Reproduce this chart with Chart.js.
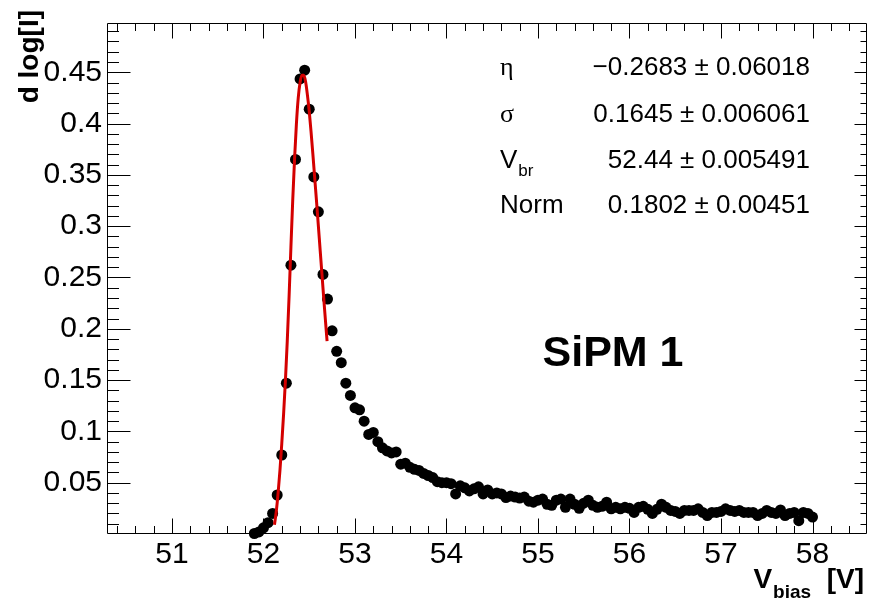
<!DOCTYPE html>
<html><head><meta charset="utf-8">
<script src="https://cdn.jsdelivr.net/npm/chart.js@4/dist/chart.umd.min.js"></script>
<style>html,body{margin:0;padding:0;background:#fff}#wrap{width:872px;height:601px}canvas{display:block}</style>
</head><body><div id="wrap"><canvas id="c" width="872" height="601"></canvas></div>
<script>
// ---- data ----
const biasV = [51.90,51.95,52.00,52.05,52.10,52.15,52.20,52.25,52.30,52.35,52.40,52.45,52.50,52.55,52.60,52.65,52.70,52.75,52.80,52.85,52.90,52.95,
53.00,53.05,53.10,53.15,53.20,53.25,53.30,53.35,53.40,53.45,53.50,53.55,53.60,53.65,53.70,53.75,53.80,53.85,53.90,53.95,
54.00,54.05,54.10,54.15,54.20,54.25,54.30,54.35,54.40,54.45,54.50,54.55,54.60,54.65,54.70,54.75,54.80,54.85,54.90,54.95,
55.00,55.05,55.10,55.15,55.20,55.25,55.30,55.35,55.40,55.45,55.50,55.55,55.60,55.65,55.70,55.75,55.80,55.85,55.90,55.95,
56.00,56.05,56.10,56.15,56.20,56.25,56.30,56.35,56.40,56.45,56.50,56.55,56.60,56.65,56.70,56.75,56.80,56.85,56.90,56.95,
57.00,57.05,57.10,57.15,57.20,57.25,57.30,57.35,57.40,57.45,57.50,57.55,57.60,57.65,57.70,57.75,57.80,57.85,57.90,57.95,58.00];
const dLogI = [0.0005,0.002,0.006,0.011,0.020,0.038,0.077,0.147,0.262,0.365,0.4435,0.452,0.414,0.348,0.314,0.253,0.229,0.198,0.178,0.167,0.147,0.135,
0.123,0.121,0.110,0.097,0.099,0.090,0.084,0.081,0.079,0.080,0.068,0.069,0.065,0.063,0.062,0.059,0.057,0.055,0.051,0.050,
0.050,0.049,0.039,0.047,0.045,0.042,0.044,0.046,0.039,0.043,0.039,0.040,0.039,0.0355,0.037,0.036,0.035,0.036,0.032,0.031,
0.033,0.034,0.029,0.028,0.033,0.034,0.026,0.034,0.029,0.025,0.030,0.033,0.028,0.026,0.027,0.031,0.0245,0.026,0.0245,0.026,
0.025,0.021,0.026,0.027,0.024,0.020,0.024,0.029,0.026,0.023,0.022,0.020,0.023,0.023,0.023,0.0245,0.021,0.018,0.021,0.021,
0.022,0.0245,0.023,0.022,0.023,0.021,0.021,0.021,0.018,0.020,0.023,0.021,0.020,0.0235,0.018,0.020,0.021,0.013,0.021,0.020,0.0165];
const fitV = [52.12,52.14,52.16,52.18,52.20,52.22,52.24,52.26,52.28,52.30,52.32,52.34,52.36,52.38,52.40,52.42,52.44,52.46,52.48,52.50,52.52,52.54,52.56,52.58,52.60,52.62,52.64,52.66,52.68,52.695];
const fitY = [0.009,0.022,0.040,0.062,0.088,0.117,0.150,0.188,0.232,0.280,0.326,0.366,0.400,0.425,0.440,0.447,0.447,0.441,0.428,0.412,0.392,0.370,0.347,0.324,0.300,0.276,0.252,0.228,0.205,0.188];
const xTickLabels = ['51','52','53','54','55','56','57','58'];
const yTickLabels = ['0.05','0.1','0.15','0.2','0.25','0.3','0.35','0.4','0.45'];
const parNames = ['η','σ','V','Norm'];
const parValues = ['\u22120.2683 \u00b1 0.06018','0.1645 \u00b1 0.006061','52.44 \u00b1 0.005491','0.1802 \u00b1 0.00451'];
const label = 'SiPM 1';

const SANS = '"Liberation Sans", Arial, Helvetica, sans-serif';
const SERIF = '"Liberation Serif", "DejaVu Serif", serif';

const rootFrame = {
  id: 'rootFrame',
  beforeDatasetsDraw(chart) {
    const {ctx, chartArea: a, scales: {x, y}} = chart;
    ctx.save();
    ctx.strokeStyle = '#000';
    ctx.lineWidth = 1;
    ctx.beginPath();
    const L = Math.round(a.left) + 0.5, R = Math.round(a.right) - 0.5, T = Math.round(a.top) + 0.5, B = Math.round(a.bottom) - 0.5;
    ctx.rect(L, T, R - L, B - T);
    // x ticks (every 0.2, major every 1)
    for (let k = Math.ceil(x.min * 5); k <= Math.floor(x.max * 5); k++) {
      const v = k / 5, px = Math.round(x.getPixelForValue(v)) + 0.5;
      const len = (k % 5 === 0) ? 15 : 7.5;
      ctx.moveTo(px, B); ctx.lineTo(px, B - len);
      ctx.moveTo(px, T); ctx.lineTo(px, T + len);
    }
    // y ticks (every 0.01, major every 0.05)
    for (let k = 1; k * 0.01 <= y.max; k++) {
      const v = k / 100, py = Math.round(y.getPixelForValue(v)) + 0.5;
      const major = (k % 5 === 0);
      ctx.moveTo(L, py); ctx.lineTo(L + (major ? 23 : 11.5), py);
      ctx.moveTo(R, py); ctx.lineTo(R - (major ? 12 : 6), py);
    }
    ctx.stroke();
    ctx.restore();
  },
  afterDraw(chart) {
    const {ctx} = chart;
    ctx.save();
    ctx.fillStyle = '#000';
    // y title
    ctx.save();
    ctx.font = 'bold 28px ' + SANS;
    ctx.translate(38, 10);
    ctx.rotate(-Math.PI / 2);
    ctx.textAlign = 'right';
    ctx.textBaseline = 'alphabetic';
    ctx.fillText('d log[I]', 0, 0);
    ctx.restore();
    // x title  V_bias [V], right aligned at 862
    ctx.textBaseline = 'alphabetic';
    ctx.textAlign = 'left';
    const big = 'bold 28px ' + SANS, small = 'bold 19px ' + SANS;
    ctx.font = big; const wV = ctx.measureText('V').width; const wU = ctx.measureText('  [V]').width;
    ctx.font = small; const wS = ctx.measureText('bias').width;
    let x0 = 863 - wV - wS - wU;
    ctx.font = big; ctx.fillText('V', x0, 588);
    ctx.font = small; ctx.fillText('bias', x0 + wV + 1, 598);
    ctx.font = big; ctx.fillText('  [V]', x0 + wV + wS + 1, 588);
    // SiPM label
    ctx.font = 'bold 43px ' + SANS;
    ctx.textAlign = 'center';
    ctx.fillText(label, 613, 366);
    // fit parameters
    const base = [75, 122, 168, 213];
    for (let i = 0; i < 4; i++) {
      ctx.textAlign = 'left';
      if (i < 2) { ctx.font = '26px ' + SERIF; ctx.fillText(parNames[i], 500, base[i]); }
      else if (i === 2) {
        ctx.font = '26px ' + SANS; ctx.fillText('V', 500, base[i]);
        const w = ctx.measureText('V').width;
        ctx.font = '17px ' + SANS; ctx.fillText('br', 500 + w + 1, base[i] + 8);
      } else { ctx.font = '26px ' + SANS; ctx.fillText(parNames[i], 500, base[i]); }
      ctx.font = '26px ' + SANS;
      ctx.textAlign = 'right';
      ctx.fillText(parValues[i], 810, base[i]);
    }
    ctx.restore();
  }
};

new Chart(document.getElementById('c'), {
  type: 'scatter',
  data: {
    datasets: [
      {
        label: 'fit',
        data: fitV.map((v, i) => ({x: v, y: fitY[i]})),
        showLine: true,
        borderColor: '#d40000',
        borderWidth: 3,
        pointRadius: 0,
        cubicInterpolationMode: 'monotone',
        fill: false
      },
      {
        label: 'data',
        data: biasV.map((v, i) => ({x: v, y: dLogI[i]})),
        showLine: false,
        pointRadius: 5.5,
        pointBackgroundColor: '#000',
        pointBorderColor: '#000',
        pointBorderWidth: 0,
        clip: false
      }
    ]
  },
  options: {
    responsive: false,
    devicePixelRatio: 1,
    animation: false,
    layout: {padding: {left: 0, right: 5, top: 10, bottom: 0}},
    plugins: {legend: {display: false}, tooltip: {enabled: false}},
    scales: {
      x: {
        type: 'linear', min: 50.29, max: 58.59,
        grid: {display: false, drawTicks: false}, border: {display: false},
        afterFit: s => { s.height = 67; },
        ticks: {
          stepSize: 1, includeBounds: false, autoSkip: false, maxRotation: 0, padding: 3,
          color: '#000', font: {family: SANS, size: 30},
          callback: v => { const i = Math.round(v) - 51; return (Math.abs(v - Math.round(v)) < 1e-6 && i >= 0 && i < xTickLabels.length) ? xTickLabels[i] : ''; }
        }
      },
      y: {
        type: 'linear', min: 0, max: 0.498,
        grid: {display: false, drawTicks: false}, border: {display: false},
        afterFit: s => { s.width = 107; },
        ticks: {
          stepSize: 0.05, includeBounds: false, autoSkip: false, padding: 5,
          color: '#000', font: {family: SANS, size: 30},
          callback: v => { const i = Math.round(v / 0.05) - 1; return (i >= 0 && i < yTickLabels.length) ? yTickLabels[i] : ''; }
        }
      }
    }
  },
  plugins: [rootFrame]
});
</script>
</body></html>
